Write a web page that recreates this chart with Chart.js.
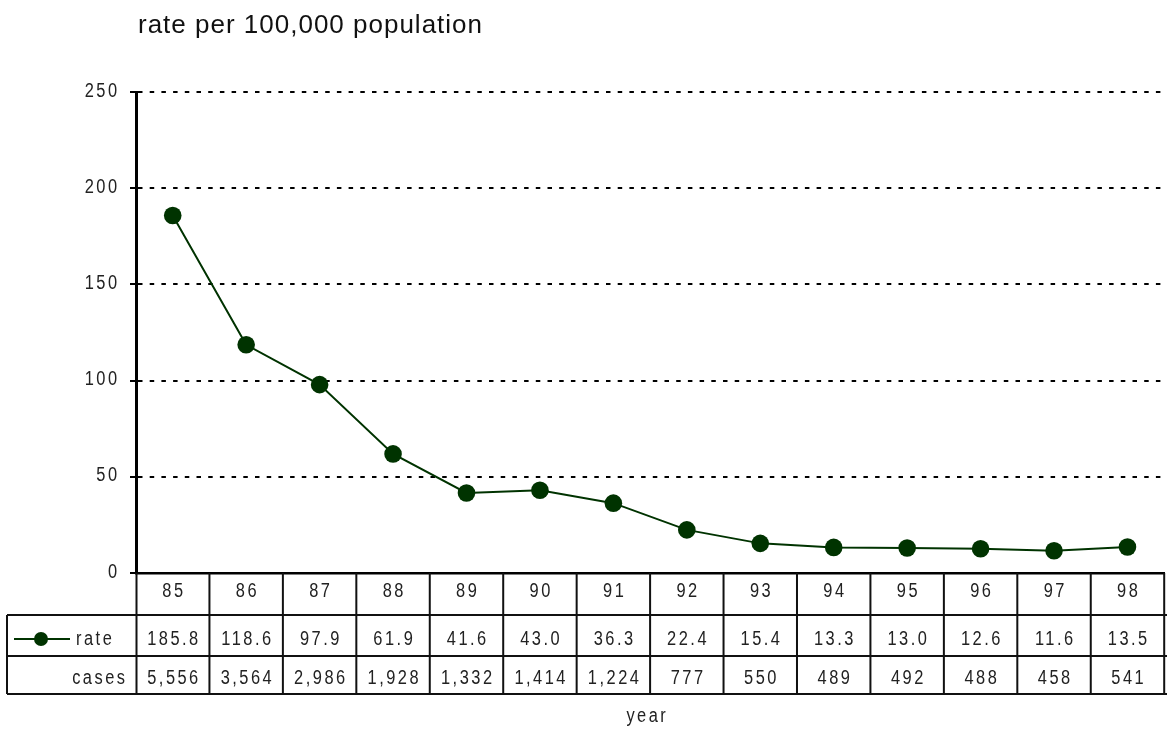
<!DOCTYPE html>
<html>
<head>
<meta charset="utf-8">
<script src="https://cdn.jsdelivr.net/npm/chart.js@4/dist/chart.umd.min.js"></script>
<style>
    html, body { margin: 0; padding: 0; background: #fff; overflow: hidden; }
    canvas { display: block; }
</style>
</head>
<body>
<canvas id="grafico-taxa" width="1173" height="730"></canvas>
<script>
// Dados do gráfico
const anos = ["85", "86", "87", "88", "89", "90", "91", "92", "93", "94", "95", "96", "97", "98"];
const taxas = [185.8, 118.6, 97.9, 61.9, 41.6, 43.0, 36.3, 22.4, 15.4, 13.3, 13.0, 12.6, 11.6, 13.5];
const casos = [5556, 3564, 2986, 1928, 1332, 1414, 1224, 777, 550, 489, 492, 488, 458, 541];

const titulo = "rate per 100,000 population";
const tituloX = "year";
const corLinha = "#003300";
const corTexto = "#222";

// Texto estreito: Liberation Sans comprimida na horizontal, com espaçamento entre letras
const ESCALA = 0.82;
const ESPACO = 2.5;
function textoEstreito(ctx, texto, x, y, alinhamento) {
    ctx.save();
    ctx.font = "20px 'Liberation Sans', Arial, sans-serif";
    ctx.fillStyle = corTexto;
    ctx.textBaseline = "middle";
    ctx.textAlign = alinhamento;
    ctx.letterSpacing = (ESPACO / ESCALA) + "px";
    // compensa o espaço extra depois da última letra
    let dx = 0;
    if (alinhamento === "center") dx = ESPACO / 2;
    if (alinhamento === "right") dx = ESPACO;
    ctx.translate(x + dx, y);
    ctx.scale(ESCALA, 1);
    ctx.fillText(texto, 0, 0);
    ctx.restore();
}

// Rótulos dos eixos, título e tabela de dados abaixo do eixo x
const tabela = {
    id: "tabela",
    afterDraw(chart) {
        const ctx = chart.ctx;
        const area = chart.chartArea;
        const x = chart.scales.x;
        const y = chart.scales.y;
        const w = (area.right - area.left) / anos.length;
        const y0 = area.bottom;
        const yTaxa = y0 + 42, yCasos = y0 + 83, yFim = y0 + 121;
        const meioTaxa = 639, meioCasos = 678;

        ctx.save();
        ctx.letterSpacing = "1px";
        ctx.fillStyle = "#111";
        ctx.font = "26px 'Liberation Sans', Arial, sans-serif";
        ctx.textAlign = "left";
        ctx.textBaseline = "alphabetic";
        ctx.fillText(titulo, 138, 33);
        ctx.restore();

        // rótulos do eixo y
        y.ticks.forEach((t, i) => {
            textoEstreito(ctx, String(t.value), area.left - 19, y.getPixelForTick(i) - 1, "right");
        });

        // linhas da tabela
        ctx.save();
        ctx.strokeStyle = "#111";
        ctx.lineWidth = 2;
        ctx.beginPath();
        [yTaxa, yCasos, yFim].forEach(yy => {
            ctx.moveTo(7, yy);
            ctx.lineTo(chart.width, yy);
        });
        ctx.moveTo(7, yTaxa);
        ctx.lineTo(7, yFim);
        ctx.moveTo(area.left + 0.5, y0);
        ctx.lineTo(area.left + 0.5, yFim);
        anos.forEach((a, i) => {
            const xb = x.getPixelForValue(i) + w / 2;
            ctx.moveTo(xb, y0);
            ctx.lineTo(xb, yFim);
        });
        ctx.stroke();
        ctx.restore();

        // anos e valores
        anos.forEach((a, i) => {
            const xc = x.getPixelForValue(i);
            textoEstreito(ctx, x.getLabelForValue(i), xc, y0 + 18, "center");
            textoEstreito(ctx, taxas[i].toFixed(1), xc, meioTaxa, "center");
            textoEstreito(ctx, casos[i].toLocaleString("en-US"), xc, meioCasos, "center");
        });

        // legenda da série
        textoEstreito(ctx, "rate", 76, meioTaxa, "left");
        textoEstreito(ctx, "cases", 125, meioCasos, "right");
        ctx.save();
        ctx.strokeStyle = corLinha;
        ctx.lineWidth = 2;
        ctx.beginPath();
        ctx.moveTo(14, meioTaxa);
        ctx.lineTo(70, meioTaxa);
        ctx.stroke();
        ctx.fillStyle = corLinha;
        ctx.beginPath();
        ctx.arc(41, meioTaxa, 7, 0, Math.PI * 2);
        ctx.fill();
        ctx.restore();

        textoEstreito(ctx, tituloX, (area.left + area.right) / 2 - 4, 716, "center");
    }
};

const dadosTaxa = {
    labels: anos,
    datasets: [{
        label: "rate",
        data: taxas,
        borderColor: corLinha,
        backgroundColor: corLinha,
        borderWidth: 2,
        pointRadius: 8.8,
        pointHoverRadius: 8.8,
        pointBackgroundColor: corLinha,
        pointBorderWidth: 0,
        tension: 0,
    }]
};

const configTaxa = {
    type: "line",
    data: dadosTaxa,
    options: {
        responsive: false,
        animation: false,
        layout: {
            padding: { top: 92, left: 0, right: 0, bottom: 0 }
        },
        plugins: {
            legend: { display: false },
            tooltip: { enabled: false }
        },
        scales: {
            x: {
                offset: true,
                grid: { display: false },
                border: { display: true, color: "#000", width: 2.5 },
                ticks: { display: false, autoSkip: false },
                afterFit(scale) { scale.height = 157; }
            },
            y: {
                min: 0,
                max: 250,
                ticks: { stepSize: 50, display: false },
                grid: {
                    color: "#000",
                    lineWidth: 2,
                    tickLength: 6,
                    tickColor: "#000",
                    tickWidth: 2
                },
                border: { display: true, color: "#000", width: 3, dash: [4.5, 7.2] },
                afterFit(scale) { scale.width = 136; }
            }
        }
    },
    plugins: [tabela]
};

let graficoTaxa = new Chart(document.getElementById("grafico-taxa"), configTaxa);
</script>
</body>
</html>
